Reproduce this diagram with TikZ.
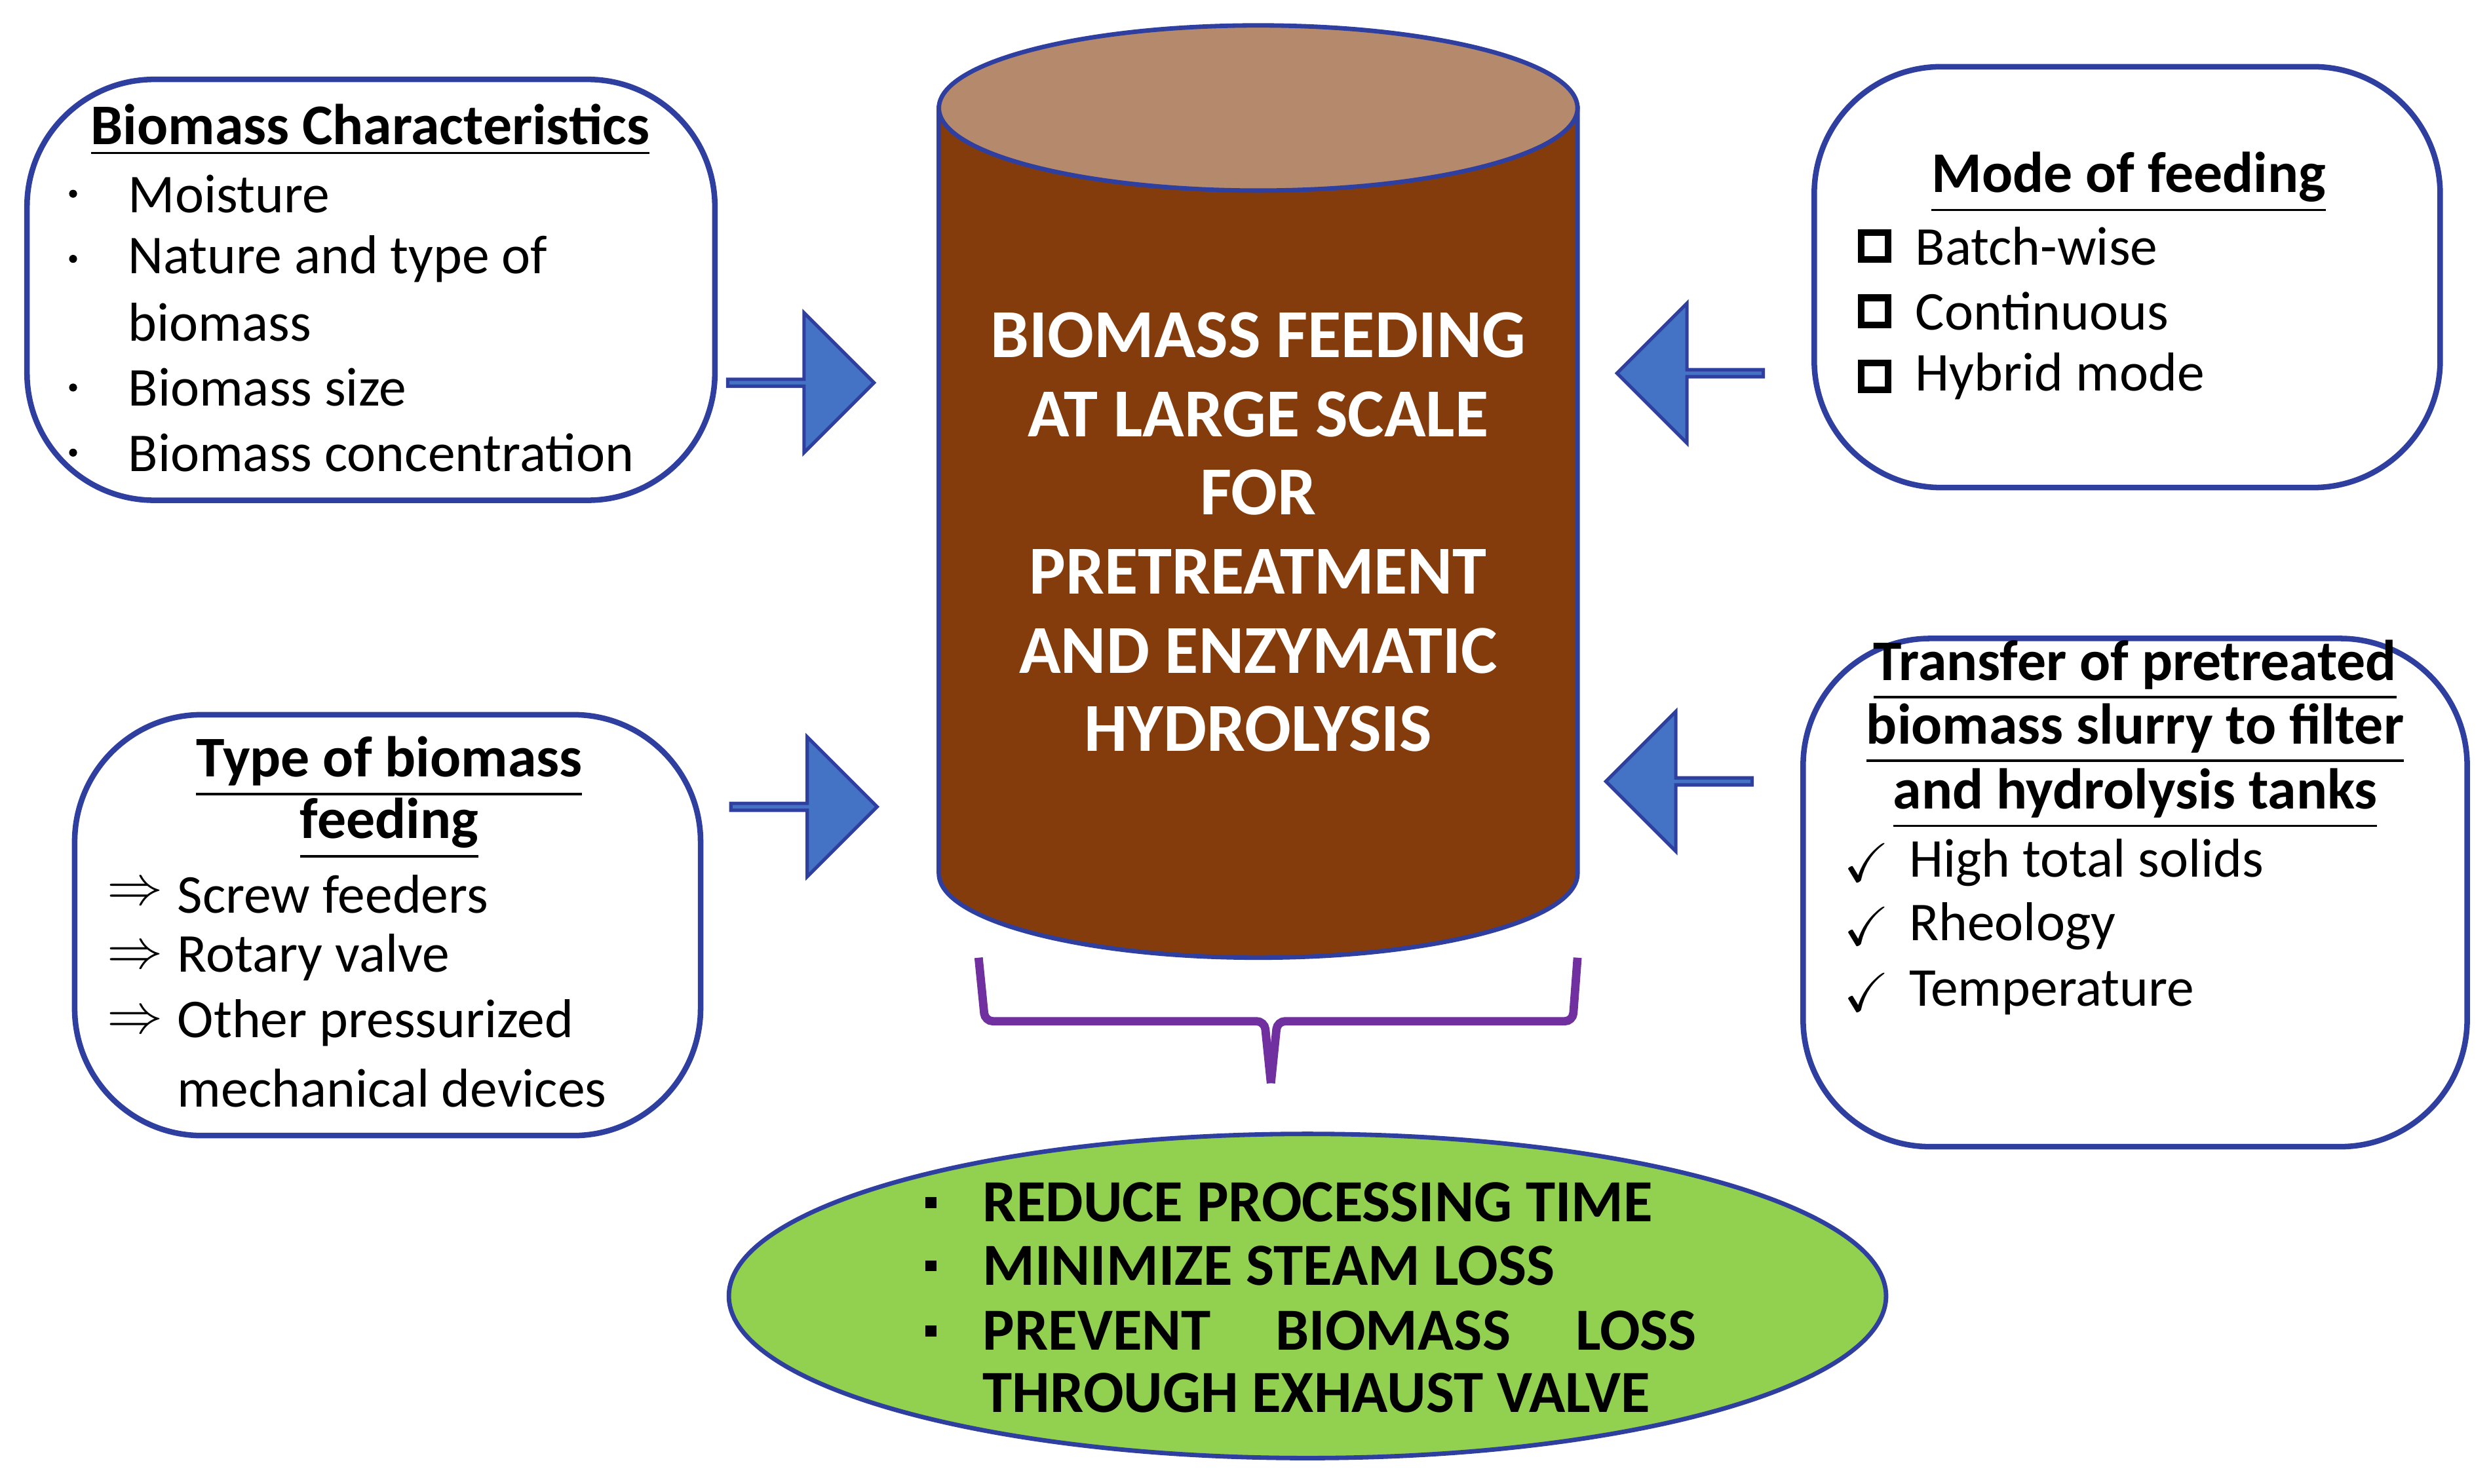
\documentclass[tikz,border=0pt]{standalone}
\usepackage{amssymb}
\usepackage{fontspec}
\setmainfont{Carlito}
\usetikzlibrary{shapes.arrows,shapes.geometric}
\definecolor{brn}{HTML}{843C0C}
\definecolor{brtop}{HTML}{B58A6C}
\definecolor{arr}{HTML}{4472C4}
\definecolor{bord}{HTML}{2F3F9F}
\definecolor{grn}{HTML}{92D050}
\definecolor{purp}{HTML}{7030A0}
\begin{document}
\begin{tikzpicture}[x=0.01cm,y=-0.01cm,
 box/.style={draw=bord,line width=1pt,rounded corners=0.8cm},
 tl/.style={font=\fontsize{10.3}{12}\selectfont\bfseries},
 it/.style={anchor=west,font=\fontsize{9.8}{12}\selectfont,inner sep=0},
 bul/.style={anchor=center,font=\fontsize{9.8}{12}\selectfont,inner sep=0},
 cy/.style={text=white,font=\fontsize{12.3}{14}\selectfont\bfseries},
 el/.style={anchor=west,inner sep=0,font=\fontsize{10.7}{13}\selectfont\bfseries},
 ba/.style={single arrow,draw=bord,fill=arr,line width=0.6pt,minimum height=0.92cm,minimum width=0.88cm,single arrow head extend=0.2cm,single arrow tip angle=90,inner sep=0}]
\useasboundingbox (0,0) rectangle (1568,934);
% boxes
\draw[box] (17,50) rectangle (450,315);
\node[tl] (t1) at (233,82) {\underline{Biomass Characteristics}};
\foreach \y/\t [count=\i] in {122/Moisture,163/Nature and type of,203/biomass,244/Biomass size,285/Biomass concentration}{
 \node[it] (b\i) at (80,\y) {\t};}
\foreach \y [count=\i] in {122,163,244,285}{\node[fill=black,circle,minimum size=0.05cm,inner sep=0] (bb\i) at (46,\y) {};}
\draw[box] (1142,42) rectangle (1536,307);
\node[tl] (t2) at (1340,115) {\underline{Mode of feeding}};
\foreach \y/\t [count=\i] in {155/Batch-wise,196/Continuous,237/Hybrid mode}{
 \node[it] (m\i) at (1205,\y) {\t};
 \node[draw,line width=1.2pt,minimum size=0.17cm,inner sep=0] (mb\i) at (1180,\y) {};}
\draw[box] (47,450) rectangle (441,715);
\node[tl] (t3a) at (245,483) {\underline{Type of biomass}};
\node[tl] (t3b) at (245,522) {\underline{feeding}};
\foreach \y/\t [count=\i] in {563/Screw feeders,603/Rotary valve,644/Other pressurized,685/mechanical devices}{
 \node[it] (f\i) at (111,\y) {\t};}
\foreach \y [count=\i] in {563,603,644}{\node[bul] (fb\i) at (85,\y) {$\Rightarrow$};}
\draw[box] (1135,402) rectangle (1553,722);
\node[tl] (t4a) at (1344,422) {\underline{Transfer of pretreated}};
\node[tl] (t4b) at (1344,462) {\underline{biomass slurry to filter}};
\node[tl] (t4c) at (1344,503) {\underline{and hydrolysis tanks}};
\foreach \y/\t [count=\i] in {543/High total solids,583/Rheology,625/Temperature}{
 \node[it] (h\i) at (1201,\y) {\t};
 \node[bul] (hb\i) at (1175,\y) {$\checkmark$};}
% cylinder
\draw[bord,line width=0.8pt,fill=brn] (591,68) -- (591,550) arc[start angle=180,end angle=0,x radius=201,y radius=53] -- (993,68) -- cycle;
\draw[bord,line width=0.8pt,fill=brtop] (792,68) ellipse[x radius=201,y radius=52];
\foreach \y/\t [count=\i] in {211/BIOMASS FEEDING,261/AT LARGE SCALE,310/FOR,360/PRETREATMENT,410/AND ENZYMATIC,459/HYDROLYSIS}{
 \node[cy] (c\i) at (792,\y) {\t};}
% arrows
\node[ba] (a1) at (503,241) {};
\node[ba] (a2) at (505,508) {};
\node[ba,shape border rotate=180] (a3) at (1065,235) {};
\node[ba,shape border rotate=180] (a4) at (1058,492) {};
% brace
\draw[purp,line width=1.5pt,rounded corners=0.05cm] (616,603) -- (620,643) -- (796,643) -- (800,682);
\draw[purp,line width=1.5pt,rounded corners=0.05cm] (993,603) -- (990,643) -- (804,643) -- (800,682);
% ellipse
\node[ellipse,draw=bord,fill=grn,line width=0.8pt,minimum width=7.28cm,minimum height=2.04cm] (e) at (823,816) {};
\foreach \y/\t [count=\i] in {757/REDUCE PROCESSING TIME,797/MINIMIZE STEAM LOSS,877/THROUGH EXHAUST VALVE}{
 \node[el] (e\i) at (618,\y) {\t};}
\node[el,text width=4.49cm] (e4) at (618,838) {PREVENT\hfill BIOMASS\hfill LOSS};
\foreach \y [count=\i] in {757,797,838}{\node[fill=black,minimum size=0.07cm,inner sep=0] (eb\i) at (586,\y) {};}
\end{tikzpicture}
\end{document}
